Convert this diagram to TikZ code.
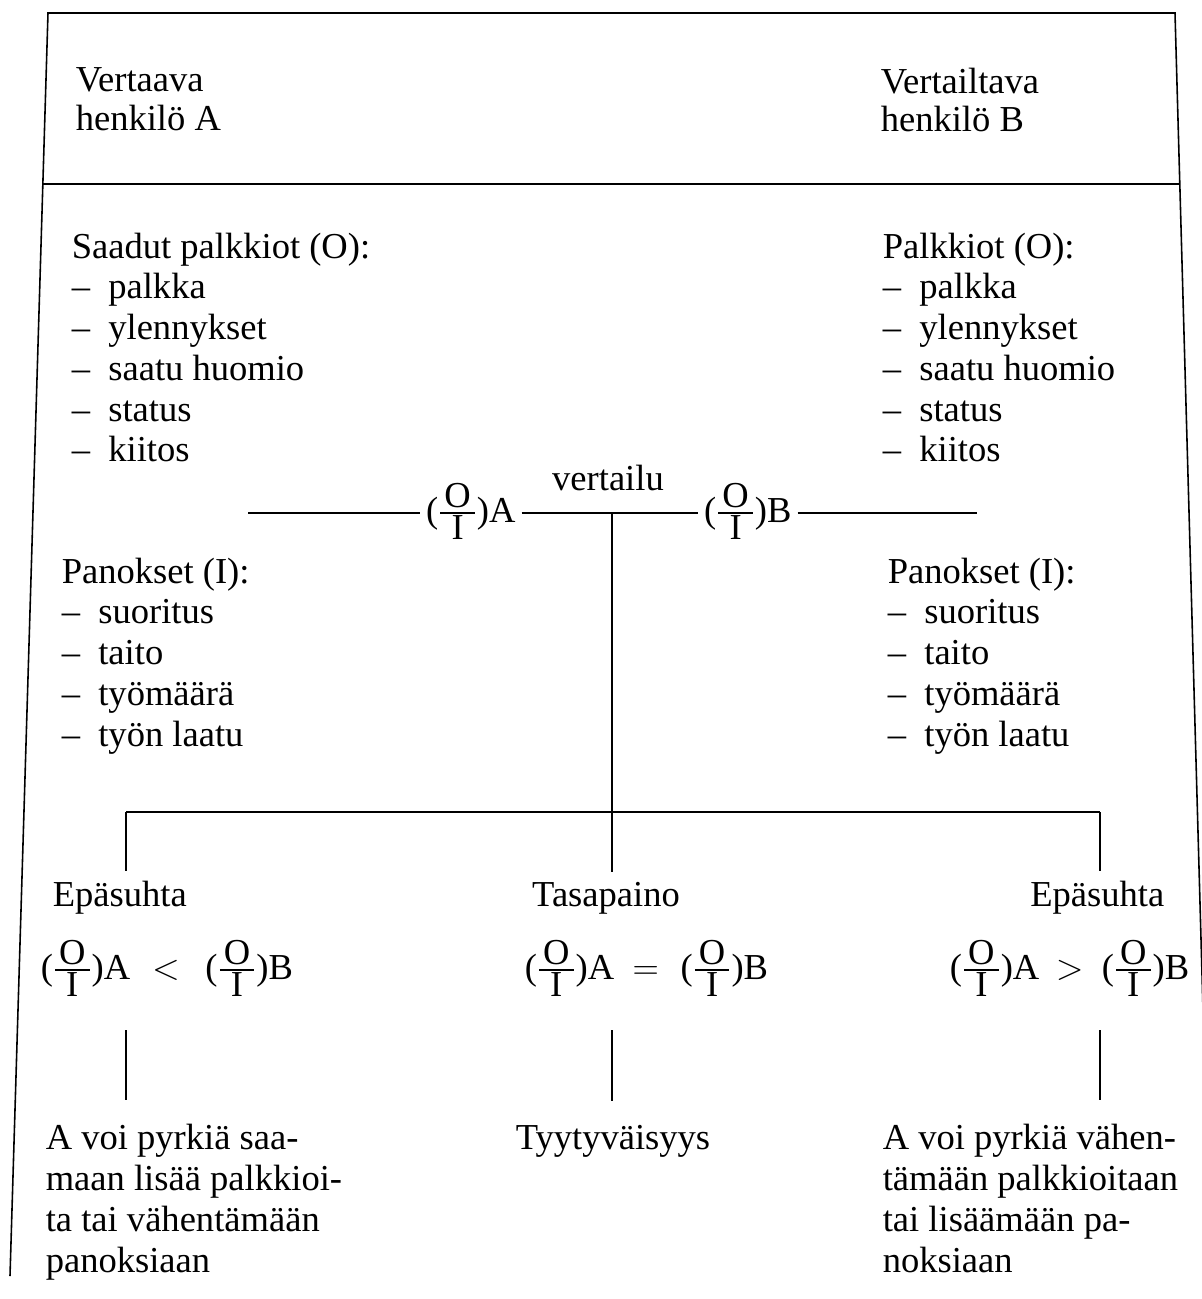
\documentclass[tikz,border=0pt]{standalone}
\usepackage{amsmath}
\usepackage{fontspec}
\setmainfont{Liberation Serif}
\usetikzlibrary{calc}
\newcommand\dashitem{\makebox[1em][l]{\textendash}}
\newcommand\oi{\ensuremath{\frac{\displaystyle\mkern2mu\text{O}\mkern2mu}{\displaystyle\text{I}}}}

\begin{document}
\begin{tikzpicture}[x=0.02cm, y=-0.02cm, line width=0.9pt,
  txt/.style={inner sep=0pt, font=\fontsize{20.8}{23.2}\selectfont},
  block/.style={txt, align=left, anchor=north west},
  head/.style={txt, inner ysep=5pt, anchor=base},
  ratio/.style={txt, anchor=base west},
  result/.style={txt, inner ysep=13pt, align=left, anchor=north west, font=\fontsize{20.8}{23.5}\selectfont}
]
  \useasboundingbox (0,0) rectangle (1202,1299);

  % Frame
  \coordinate (tl) at (48,13);
  \coordinate (tr) at (1175,13);
  \coordinate (bl) at (10,1276);
  \coordinate (br) at (1203,1010);
  \draw (bl) -- (tl) -- (tr) -- (br);
  \draw (43,184) -- (1180,184);

  % Persons
  \node[block, font=\fontsize{20.8}{21.8}\selectfont] (persA) at (75,67) {Vertaava\\henkilö A};
  \node[block, font=\fontsize{20.8}{21.8}\selectfont] (persB) at (880,67) {Vertailtava\\henkilö B};

  % Outcomes and inputs
  \node[block] (outA) at (71,232)
    {Saadut palkkiot (O):\\\dashitem palkka\\\dashitem ylennykset\\\dashitem saatu huomio\\\dashitem status\\\dashitem kiitos};
  \node[block] (outB) at (882,232)
    {Palkkiot (O):\\\dashitem palkka\\\dashitem ylennykset\\\dashitem saatu huomio\\\dashitem status\\\dashitem kiitos};
  \node[block] (inA) at (61,557)
    {Panokset (I):\\\dashitem suoritus\\\dashitem taito\\\dashitem työmäärä\\\dashitem työn laatu};
  \node[block] (inB) at (887,557)
    {Panokset (I):\\\dashitem suoritus\\\dashitem taito\\\dashitem työmäärä\\\dashitem työn laatu};

  % Comparison
  \coordinate (hub) at (612,513);
  \coordinate (lx) at (248,513);
  \coordinate (rx) at (977,513);
  \node[ratio, inner xsep=3pt] (oiA) at (420,522) {(\oi)A};
  \node[ratio, inner xsep=3pt] (oiB) at (698,522) {(\oi)B};
  \node[txt, anchor=base] (cmp) at (608,490) {vertailu};
  \draw (lx) -- (oiA.west |- hub);
  \draw (oiA.east |- hub) -- (oiB.west |- hub);
  \draw (oiB.east |- hub) -- (rx);

  % Outcomes of comparison
  \node[head, anchor=base west] (epL) at (52,906) {Epäsuhta};
  \node[head] (tasa) at (606,906) {Tasapaino};
  \node[head, anchor=base east] (epR) at (1165,906) {Epäsuhta};

  \node[ratio, inner ysep=19pt] (eqL) at (40,979) {(\oi)A\hspace{0.6em}$<$\hspace{0.7em}(\oi)B};
  \node[ratio, inner ysep=19pt] (eqM) at (524,979) {(\oi)A\hspace{0.5em}$=$\hspace{0.6em}(\oi)B};
  \node[ratio, inner ysep=19pt, anchor=base east] (eqR) at (1190,979) {(\oi)A\hspace{0.45em}$>$\hspace{0.5em}(\oi)B};

  \node[result] (resL) at (45,1100) {A voi pyrkiä saa-\\maan lisää palkkioi-\\ta tai vähentämään\\panoksiaan};
  \node[txt, inner ysep=13pt, anchor=base west] (tyyt) at (515,1149) {Tyytyväisyys};
  \node[result] (resR) at (882,1100) {A voi pyrkiä vähen-\\tämään palkkioitaan\\tai lisäämään pa-\\noksiaan};

  % Branches
  \coordinate (brL) at (126,812);
  \coordinate (brR) at (1100,812);
  \draw (brL) -- (brR);
  \draw (brL) -- (brL |- epL.north);
  \draw (brR) -- (brR |- epR.north);
  \draw (hub) -- (hub |- tasa.north);
  \draw (eqL.south -| brL) -- (resL.north -| brL);
  \draw (eqM.south -| hub) -- (tyyt.north -| hub);
  \draw (eqR.south -| brR) -- (resR.north -| brR);
\end{tikzpicture}
\end{document}
